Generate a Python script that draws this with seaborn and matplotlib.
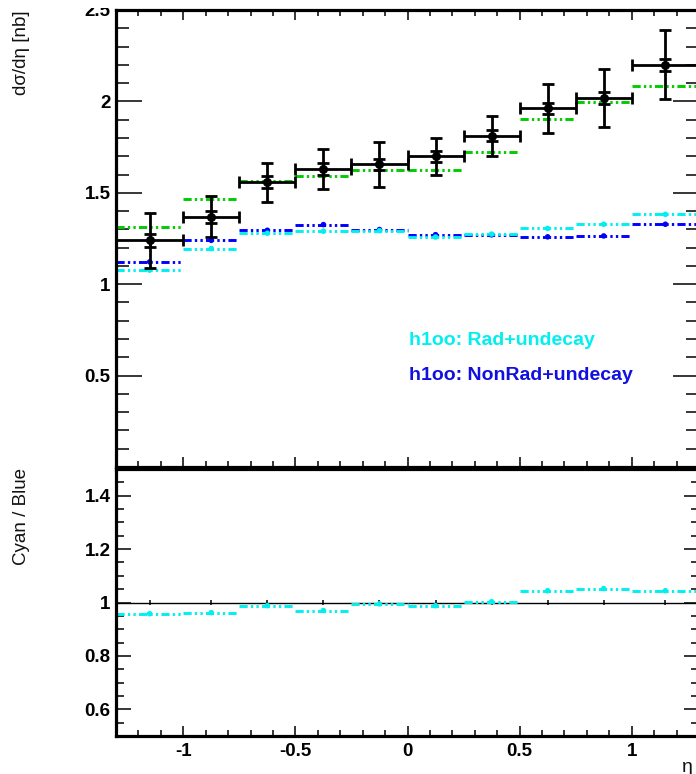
import numpy as np
import pandas as pd
import matplotlib
matplotlib.use("Agg")
import matplotlib.pyplot as plt
import seaborn as sns
from matplotlib.ticker import MultipleLocator
from matplotlib.patches import Rectangle

# eta binning (first and last bins are wider)
bin_edges = [-1.3, -1.0, -0.75, -0.5, -0.25, 0.0, 0.25, 0.5, 0.75, 1.0, 1.3]

# measured cross section with total and statistical uncertainties
data_xsec = [1.240, 1.370, 1.557, 1.630, 1.655, 1.700, 1.811, 1.962, 2.017, 2.200]
data_err_tot = [0.150, 0.110, 0.107, 0.109, 0.123, 0.100, 0.110, 0.135, 0.158, 0.188]
data_err_stat = [0.037, 0.033, 0.033, 0.032, 0.032, 0.030, 0.030, 0.030, 0.032, 0.032]

# predictions
pred_green = [1.313, 1.464, 1.563, 1.592, 1.623, 1.623, 1.723, 1.903, 1.996, 2.082]
pred_rad = [1.077, 1.195, 1.279, 1.290, 1.293, 1.258, 1.274, 1.305, 1.328, 1.382]
pred_nonrad = [1.122, 1.240, 1.295, 1.326, 1.299, 1.271, 1.270, 1.259, 1.264, 1.328]

# Rad / NonRad ratio
ratio_rad_nonrad = [0.958, 0.962, 0.988, 0.970, 0.995, 0.988, 1.003, 1.044, 1.052, 1.044]

legend_labels = ["h1oo: Rad+undecay", "h1oo: NonRad+undecay"]

edges = np.array(bin_edges)
centers = 0.5 * (edges[:-1] + edges[1:])
half_w = 0.5 * (edges[1:] - edges[:-1])

df = pd.DataFrame({
    "eta": centers,
    "data": data_xsec,
    "green": pred_green,
    "rad": pred_rad,
    "nonrad": pred_nonrad,
    "ratio": ratio_rad_nonrad,
})

sns.set_theme(style="white")
plt.rcParams["font.family"] = ["Liberation Sans", "DejaVu Sans"]
plt.rcParams.update({
    "axes.linewidth": 2.3,
    "axes.edgecolor": "black",
    "xtick.color": "black",
    "ytick.color": "black",
    "text.color": "black",
})

CYAN = "#00F0F0"
BLUE = "#0000FF"
GREEN = "#00CC00"
DASH3DOT = (0, (2.8, 1.1, 0.8, 1.1, 0.8, 1.1))
TICKFONT = 13.5

W, H = 696, 774
fig = plt.figure(figsize=(W / 100, H / 100), dpi=100)
left, right = 116 / W, 699 / W
ax_top = fig.add_axes([left, 1 - 467 / H, right - left, (467 - 10) / H])
ax_bot = fig.add_axes([left, 1 - 736 / H, right - left, (736 - 469) / H])


def draw_bins(ax, values, color, lw=2.1, z=2):
    ax.hlines(values, edges[:-1], edges[1:], colors=color, linewidth=lw,
              linestyles=[DASH3DOT], zorder=z)


# ---- upper panel: cross section ----
ax = ax_top
draw_bins(ax, df["green"], GREEN)
draw_bins(ax, df["nonrad"], BLUE)
draw_bins(ax, df["rad"], CYAN)
sns.scatterplot(data=df, x="eta", y="nonrad", ax=ax, color=BLUE, s=16,
                marker="o", edgecolor="none", zorder=3, legend=False)
sns.scatterplot(data=df, x="eta", y="rad", ax=ax, color=CYAN, s=16,
                marker="o", edgecolor="none", zorder=3, legend=False)
ax.errorbar(df["eta"], df["data"], xerr=half_w, yerr=data_err_tot, fmt="o",
            color="black", ms=5.5, lw=2.0, capsize=4.5, capthick=2.0, zorder=5)
ax.errorbar(df["eta"], df["data"], yerr=data_err_stat, fmt="none",
            ecolor="black", lw=2.0, capsize=4.5, capthick=2.0, zorder=5)

ax.set_xlim(-1.3, 1.3)
ax.set_ylim(0, 2.5)
ax.set_yticks([0.5, 1.0, 1.5, 2.0, 2.5])
ax.set_yticklabels(["0.5", "1", "1.5", "2", "2.5"])
ax.yaxis.set_minor_locator(MultipleLocator(0.1))
ax.xaxis.set_major_locator(MultipleLocator(0.5))
ax.xaxis.set_minor_locator(MultipleLocator(0.1))
ax.tick_params(axis="y", which="major", direction="in", length=19, width=1.1,
               left=True, right=True, labelsize=TICKFONT, pad=4)
ax.tick_params(axis="y", which="minor", direction="in", length=9.5, width=1.1,
               left=True, right=True)
ax.tick_params(axis="x", which="major", direction="in", length=7, width=1.1,
               top=True, bottom=True, labelbottom=False)
ax.tick_params(axis="x", which="minor", direction="in", length=4, width=1.1,
               top=True, bottom=True)
for lab in ax.get_yticklabels():
    lab.set_fontweight("bold")
ax.set_xlabel("")
ax.set_ylabel("")

fig.text(409 / W, 1 - 340 / H, legend_labels[0], color=CYAN, fontsize=14,
         fontweight="bold", ha="left", va="center")
fig.text(409 / W, 1 - 376 / H, legend_labels[1], color="#1010E0", fontsize=14,
         fontweight="bold", ha="left", va="center")

# ---- lower panel: ratio ----
ax = ax_bot
ax.axhline(1.0, color="black", lw=1.0, zorder=2)
ax.errorbar(df["eta"], np.ones(len(df)), yerr=0.01, fmt="none", ecolor="black",
            lw=1.1, zorder=2)
draw_bins(ax, df["ratio"], CYAN)
sns.scatterplot(data=df, x="eta", y="ratio", ax=ax, color=CYAN, s=16,
                marker="o", edgecolor="none", zorder=3, legend=False)

ax.set_xlim(-1.3, 1.3)
ax.set_ylim(0.5, 1.5)
ax.set_yticks([0.6, 0.8, 1.0, 1.2, 1.4])
ax.set_yticklabels(["0.6", "0.8", "1", "1.2", "1.4"])
ax.yaxis.set_minor_locator(MultipleLocator(0.05))
ax.set_xticks([-1, -0.5, 0, 0.5, 1])
ax.set_xticklabels(["-1", "-0.5", "0", "0.5", "1"])
ax.xaxis.set_minor_locator(MultipleLocator(0.1))
ax.tick_params(axis="y", which="major", direction="in", length=10.5, width=1.1,
               left=True, right=True, labelsize=TICKFONT, pad=4)
ax.tick_params(axis="y", which="minor", direction="in", length=5.5, width=1.1,
               left=True, right=True)
ax.tick_params(axis="x", which="major", direction="in", length=7, width=1.1,
               bottom=True, top=False, labelsize=TICKFONT, pad=5)
ax.tick_params(axis="x", which="minor", direction="in", length=4, width=1.1,
               bottom=True, top=False)
for lab in ax.get_yticklabels() + ax.get_xticklabels():
    lab.set_fontweight("bold")
ax.set_xlabel("")
ax.set_ylabel("")

# axis titles
fig.text(22 / W, 1 - 10 / H, "dσ/dη [nb]", rotation=90, ha="center", va="top",
         fontsize=13.5, color="#111111")
fig.text(22 / W, 1 - 468 / H, "Cyan / Blue", rotation=90, ha="center", va="top",
         fontsize=13.5, color="#111111")
fig.text(687 / W, 1 - 767 / H, "η", ha="center", va="center", fontsize=14,
         color="#111111")

# the pad is clipped just above the top frame, hiding the upper half of "2.5"
fig.patches.append(Rectangle((60 / W, 1 - 8 / H), 54 / W, 8 / H,
                             transform=fig.transFigure, facecolor="white",
                             edgecolor="none", zorder=10))

fig.savefig("out.png", dpi=100)
